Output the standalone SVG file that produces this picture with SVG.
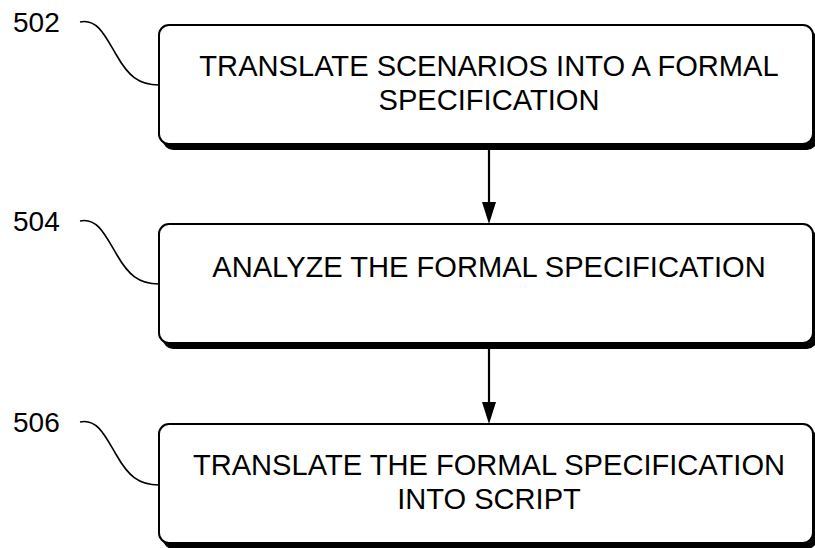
<svg xmlns="http://www.w3.org/2000/svg" width="815" height="548" viewBox="0 0 815 548">
<style>
.box{fill:#fff;stroke:#000;stroke-width:2}
.sh{fill:#000}
.t{font-family:"Liberation Sans",Arial,sans-serif;font-size:29.1px;fill:#000;text-anchor:middle}
.lbl{font-family:"Liberation Sans",Arial,sans-serif;font-size:28px;fill:#000}
.lead{fill:none;stroke:#000;stroke-width:1.6}
.conn{stroke:#000;stroke-width:2.2;fill:none}
</style>
<g id="n502">
<text class="lbl" x="13" y="32">502</text>
<path class="lead" d="M80,22 C98,18 106,38 117,56 C128,75 138,85 159,85"/>
<rect class="sh" x="163" y="30" width="654" height="120" rx="10"/>
<rect class="box" x="159" y="25" width="654" height="119" rx="10"/>
<text class="t" x="489" y="76">TRANSLATE SCENARIOS INTO A FORMAL</text>
<text class="t" x="489" y="110">SPECIFICATION</text>
</g>
<g id="n504">
<text class="lbl" x="13" y="231">504</text>
<path class="lead" d="M80,221 C98,217 106,237 117,255 C128,274 138,284 159,284"/>
<rect class="sh" x="163" y="229" width="654" height="120" rx="10"/>
<rect class="box" x="159" y="224" width="654" height="119" rx="10"/>
<text class="t" x="489" y="277">ANALYZE THE FORMAL SPECIFICATION</text>
</g>
<g id="n506">
<text class="lbl" x="13" y="432">506</text>
<path class="lead" d="M80,422 C98,418 106,438 117,456 C128,475 138,485 159,485"/>
<rect class="sh" x="163" y="429" width="654" height="120" rx="10"/>
<rect class="box" x="159" y="424" width="654" height="119" rx="10"/>
<text class="t" x="489" y="475">TRANSLATE THE FORMAL SPECIFICATION</text>
<text class="t" x="489" y="509">INTO SCRIPT</text>
</g>
<g id="connectors">
<line class="conn" x1="489" y1="150" x2="489" y2="205"/>
<path d="M482,202 L496,202 L489,224 Z" fill="#000"/>
<line class="conn" x1="489" y1="349" x2="489" y2="405"/>
<path d="M482,402 L496,402 L489,424 Z" fill="#000"/>
</g>
</svg>
